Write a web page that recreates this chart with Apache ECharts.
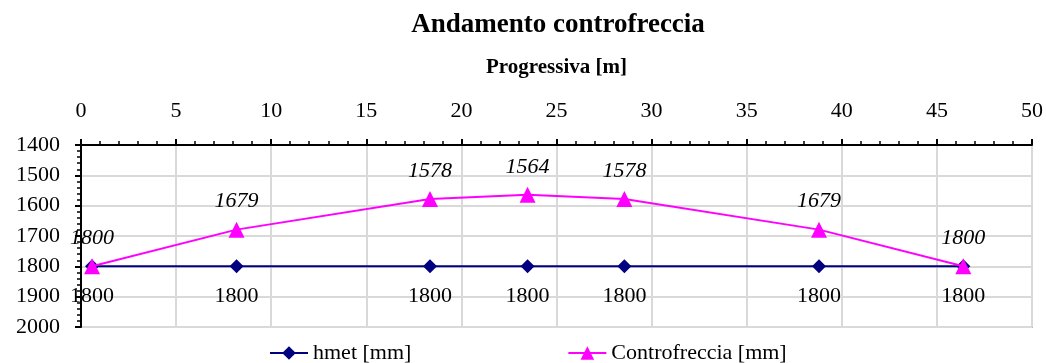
<!DOCTYPE html>
<html>
<head>
<meta charset="utf-8">
<script src="https://cdn.jsdelivr.net/npm/echarts@6/dist/echarts.min.js"></script>
<style>
  html, body { margin: 0; padding: 0; background: #fff; }
  #chart { width: 1046px; height: 363px; }
</style>
</head>
<body>
<div id="chart"></div>
<script>
// Progressive positions along the span [m]
const progressiva = [0.58, 8.18, 18.35, 23.48, 28.57, 38.8, 46.39];
// Reference height [mm]
const hmet = [1800, 1800, 1800, 1800, 1800, 1800, 1800];
// Camber profile [mm]
const controfreccia = [1800, 1679, 1578, 1564, 1578, 1679, 1800];

const seriesNames = ['hmet [mm]', 'Controfreccia [mm]'];
const serif = '"Liberation Serif", "Times New Roman", serif';

const pairs = (xs, ys) => xs.map((x, i) => [x, ys[i]]);

const chart = echarts.init(document.getElementById('chart'));
chart.setOption({
  animation: false,
  backgroundColor: '#fff',
  title: {
    text: 'Andamento controfreccia',
    left: 553, top: 7, textAlign: 'center',
    textStyle: { fontFamily: serif, fontWeight: 'bold', fontSize: 27, color: '#000' }
  },
  legend: {
    bottom: -6, left: 264,
    itemGap: 156,
    itemWidth: 38, itemHeight: 17,
    textStyle: { fontFamily: serif, fontSize: 22, color: '#000' },
    data: seriesNames
  },
  grid: {
    left: 81, right: 14, top: 145, bottom: 36,
    show: true, borderColor: '#808080', borderWidth: 1.5
  },
  xAxis: {
    type: 'value', position: 'top',
    min: 0, max: 50, interval: 5,
    name: 'Progressiva [m]', nameLocation: 'middle', nameGap: 67,
    nameTextStyle: { fontFamily: serif, fontWeight: 'bold', fontSize: 21, color: '#000' },
    axisLine: { lineStyle: { color: '#000', width: 2 } },
    axisTick: { show: true, length: 6, lineStyle: { color: '#000', width: 2 } },
    minorTick: { show: true, splitNumber: 5, length: 4, lineStyle: { color: '#000', width: 1.5 } },
    axisLabel: { fontFamily: serif, fontSize: 22, color: '#000', margin: 23 },
    splitLine: { show: true, lineStyle: { color: '#d9d9d9', width: 2 } }
  },
  yAxis: {
    type: 'value', inverse: true,
    min: 1400, max: 2000, interval: 100,
    axisLine: { show: true, lineStyle: { color: '#000', width: 2 } },
    axisTick: { show: true, length: 6, lineStyle: { color: '#000', width: 2 } },
    minorTick: { show: true, splitNumber: 5, length: 4, lineStyle: { color: '#000', width: 1.5 } },
    axisLabel: { fontFamily: serif, fontSize: 22, color: '#000', margin: 21, formatter: v => String(v) },
    splitLine: { show: true, lineStyle: { color: '#d9d9d9', width: 2 } }
  },
  series: [
    {
      name: seriesNames[0], type: 'line',
      data: pairs(progressiva, hmet),
      symbol: 'diamond', symbolSize: 14,
      itemStyle: { color: '#000080' },
      lineStyle: { color: '#000080', width: 2 },
      label: {
        show: true, position: 'bottom', distance: 12,
        formatter: p => String(p.value[1]),
        fontFamily: serif, fontSize: 22, color: '#000'
      },
      z: 2
    },
    {
      name: seriesNames[1], type: 'line',
      data: pairs(progressiva, controfreccia),
      symbol: 'triangle', symbolSize: 16,
      itemStyle: { color: '#ff00ff' },
      lineStyle: { color: '#ff00ff', width: 2 },
      label: {
        show: true, position: 'top', distance: 9,
        formatter: p => String(p.value[1]),
        fontFamily: serif, fontStyle: 'italic', fontSize: 22, color: '#000'
      },
      z: 3
    }
  ]
});
</script>
</body>
</html>
